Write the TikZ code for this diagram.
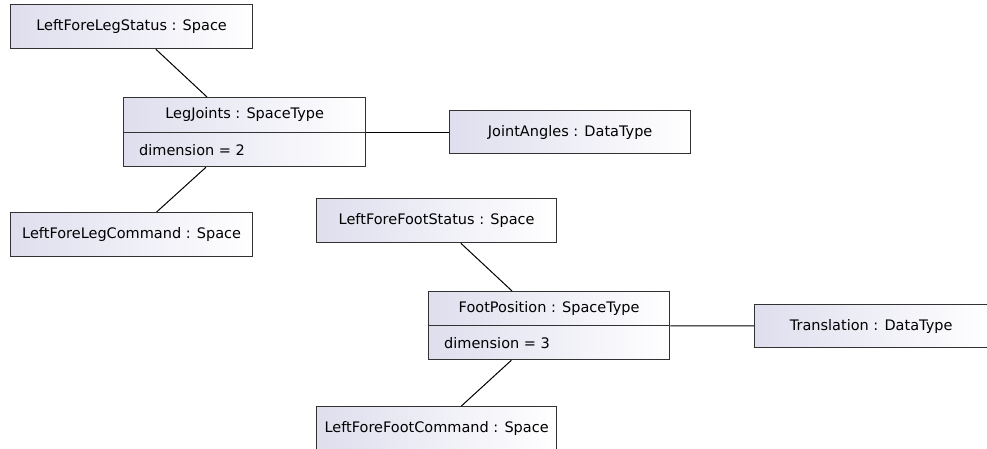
\documentclass[tikz,border=0pt]{standalone}
\usepackage{fontspec}
\setmainfont{DejaVu Sans}
\definecolor{boxleft}{RGB}{222,222,238}
\definecolor{boxline}{RGB}{50,50,50}
\tikzset{
  obj/.style={draw=boxline, line width=1.3pt, shading=axis, left color=boxleft, right color=white,
    shading angle=90, rectangle, anchor=north west, inner sep=0pt, font=\fontsize{14.5}{17}\selectfont},
  conn/.style={draw=black, line width=1pt},
  lbl/.style={inner sep=0pt, font=\fontsize{14.5}{17}\selectfont},
}
\begin{document}
\begin{tikzpicture}[x=1pt,y=-1pt]
\clip (0,0) rectangle (987,448);
\fill[white] (0,0) rectangle (987,448);
% simple objects
\node[obj, minimum width=242, minimum height=44] (lfls) at (10,4) {LeftForeLegStatus : Space};
\node[obj, minimum width=242, minimum height=44] (lflc) at (10,212) {LeftForeLegCommand : Space};
\node[obj, minimum width=241, minimum height=43] (ja) at (449,110) {JointAngles : DataType};
\node[obj, minimum width=240, minimum height=44] (lffs) at (316,198) {LeftForeFootStatus : Space};
\node[obj, minimum width=233, minimum height=43] (tr) at (754,304) {Translation : DataType};
\node[obj, minimum width=240, minimum height=44] (lffc) at (316,406) {LeftForeFootCommand : Space};
% compartment objects
\node[obj, minimum width=242, minimum height=69] (lj) at (123,97) {};
\draw[boxline, line width=1.3pt] (lj.west) -- (lj.east);
\node[lbl] (ljname) at ([yshift=-17pt]lj.north) {LegJoints : SpaceType};
\node[lbl, anchor=west] (ljattr) at ([xshift=16pt,yshift=17pt]lj.south west) {dimension = 2};
\node[obj, minimum width=241, minimum height=68] (fp) at (428,291) {};
\draw[boxline, line width=1.3pt] (fp.west) -- (fp.east);
\node[lbl] (fpname) at ([yshift=-17pt]fp.north) {FootPosition : SpaceType};
\node[lbl, anchor=west] (fpattr) at ([xshift=16pt,yshift=17pt]fp.south west) {dimension = 3};
% connectors
\draw[conn] (lfls) -- (lj);
\draw[conn] (lj) -- (lflc);
\draw[conn] (lj) -- (ja);
\draw[conn] (lffs) -- (fp);
\draw[conn] (fp) -- (lffc);
\draw[conn] (fp) -- (tr);
\end{tikzpicture}
\end{document}
